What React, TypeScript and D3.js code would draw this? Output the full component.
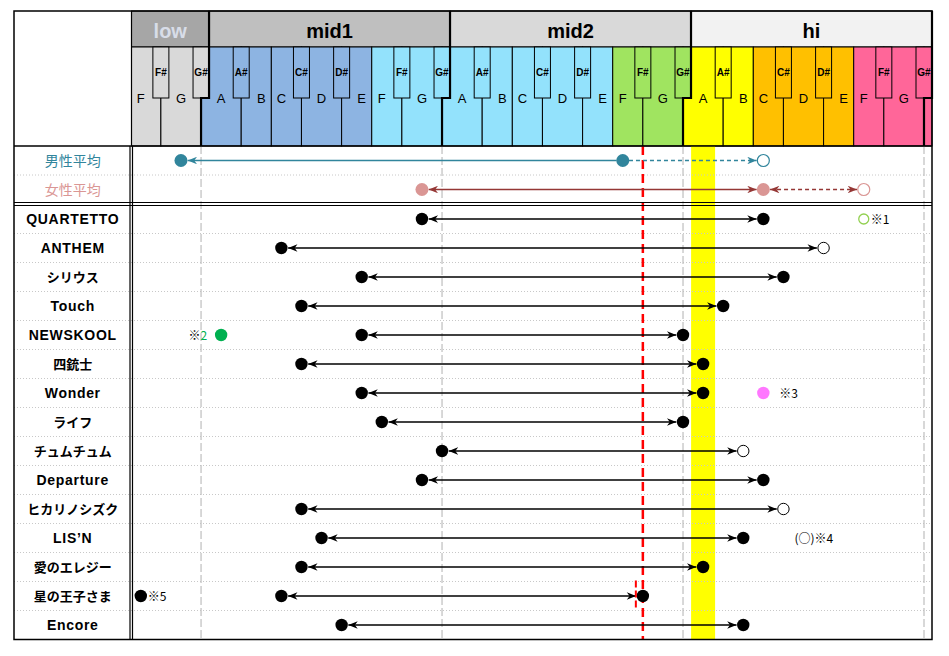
import React from "react";
import * as d3 from "d3";

// ---------- DATA ----------
const pitches = [
  "lowF", "lowF#", "lowG", "lowG#",
  "mid1A", "mid1A#", "mid1B", "mid1C", "mid1C#", "mid1D", "mid1D#", "mid1E", "mid1F", "mid1F#", "mid1G", "mid1G#",
  "mid2A", "mid2A#", "mid2B", "mid2C", "mid2C#", "mid2D", "mid2D#", "mid2E", "mid2F", "mid2F#", "mid2G", "mid2G#",
  "hiA", "hiA#", "hiB", "hiC", "hiC#", "hiD", "hiD#", "hiE", "hiF", "hiF#", "hiG", "hiG#",
  "hihiA",
];
const bandNames = ["low", "mid1", "mid2", "hi"];
const bandEnds = ["lowG#", "mid1G#", "mid2G#", "hiG#"];

const songs = [
  "QUARTETTO", "ANTHEM", "シリウス", "Touch", "NEWSKOOL", "四銃士", "Wonder", "ライフ",
  "チュムチュム", "Departure", "ヒカリノシズク", "LIS’N", "愛のエレジー", "星の王子さま", "Encore",
];
const songLow = [
  "mid1G", "mid1C", "mid1E", "mid1C#", "mid1E", "mid1C#", "mid1E", "mid1F",
  "mid1G#", "mid1G", "mid1C#", "mid1D", "mid1C#", "mid1C", "mid1D#",
];
const songHigh = [
  "hiC", "hiD#", "hiC#", "hiA#", "mid2G#", "hiA", "hiA", "mid2G#",
  "hiB", "hiC", "hiC#", "hiB", "hiA", "mid2F#", "hiB",
];
const songHighFalsetto = [
  false, true, false, false, false, false, false, false,
  true, false, true, false, false, false, false,
];

const avgLabels = ["男性平均", "女性平均"];
const maleAvg = ["lowG", "mid2F", "hiC"];
const femaleAvg = ["mid1G", "hiC", "hiF"];

const referenceNote = "mid2F#";
const highlightNote = "hiA";

// annotations
const noteMarks = [
  { song: "QUARTETTO", note: "hiF", kind: "openGreen", text: "※1" },
  { song: "NEWSKOOL", note: "mid1A", kind: "green", text: "※2" },
  { song: "Wonder", note: "hiC", kind: "pink", text: "※3" },
  { song: "LIS’N", note: "hiD", kind: "none", text: "(○)※4" },
  { song: "星の王子さま", note: "lowF", kind: "black", text: "※5" },
];

// ---------- LAYOUT ----------
const W = 949, H = 656;
const L = 14, R = 932, T = 11;
const labelR = 131.5;
const bandB = 47, blackB = 98, kbB = 146;
const avgTop = 146, avgRowH = 29;
const songTop = 204.5, rowH = 29;
const B = songTop + rowH * songs.length;

const idx = (p: string) => pitches.indexOf(p);
const x = d3.scaleLinear().domain([0, 39]).range([140.8, 924]);
const step = x(1) - x(0);

const isBlack = (p: string) => p.includes("#");
const letter = (p: string) => p.replace(/^(low|mid1|mid2|hihi|hi)/, "");

const keyColor = (i: number) => {
  if (i <= 3) return "#d9d9d9";
  if (i <= 11) return "#8db4e2";
  if (i <= 23) return "#93e2fc";
  if (i <= 27) return "#a0e460";
  if (i <= 30) return "#ffff00";
  if (i <= 35) return "#ffc000";
  return "#ff6699";
};
const bandColors = ["#a6a6a6", "#bfbfbf", "#d9d9d9", "#f2f2f2"];
const bandText = ["#d8dde8", "#000", "#000", "#000"];

const maleC = "#31859c", femaleDot = "#da9694", femaleLine = "#953735";
const sans = "'Liberation Sans', Arial, sans-serif";
const jp = "'Noto Sans CJK JP', 'Noto Sans', sans-serif";
const labelFont = "'Liberation Sans', 'Noto Sans CJK JP', sans-serif";

const rowY = (i: number) => songTop + rowH * i + rowH / 2;
const isLatin = (s: string) => /^[\x00-\x7F’]+$/.test(s);

export default function App() {
  const whiteKeys = pitches
    .map((p, i) => ({ p, i }))
    .filter((d) => !isBlack(d.p))
    .map(({ p, i }) => {
      const left = i > 0 && isBlack(pitches[i - 1]) ? x(i - 1) : x(i) - step / 2;
      const right = i < pitches.length - 1 && isBlack(pitches[i + 1]) ? x(i + 1) : x(i) + step / 2;
      return { p, i, x0: Math.max(labelR, left), x1: Math.min(R, right) };
    });
  const blackKeys = pitches.map((p, i) => ({ p, i })).filter((d) => isBlack(d.p));

  const bandEdges = [labelR, ...bandEnds.map((p) => Math.min(R, x(idx(p)) + 8))];
  const r = 6.2;

  const arrowLine = (
    x0: number, x1: number, y: number, color: string,
    start: boolean, end: boolean, dashed: boolean, key: string
  ) => (
    <line
      key={key}
      x1={x0} x2={x1} y1={y} y2={y}
      stroke={color}
      strokeWidth={1.5}
      strokeDasharray={dashed ? "4,3" : undefined}
      markerStart={start ? `url(#arr-${color.slice(1)})` : undefined}
      markerEnd={end ? `url(#arr-${color.slice(1)})` : undefined}
    />
  );

  const markerColors = ["#000000", maleC, femaleLine];

  const maleY = avgTop + avgRowH / 2;
  const femY = avgTop + avgRowH * 1.5;
  const mx = maleAvg.map((p) => x(idx(p)));
  const fx = femaleAvg.map((p) => x(idx(p)));

  return (
    <svg width={W} height={H} style={{ position: "absolute", left: 0, top: 0, background: "#fff" }}>
      <defs>
        {markerColors.map((c) => (
          <marker
            key={c}
            id={`arr-${c.slice(1)}`}
            viewBox="0 0 10 8"
            refX={10}
            refY={4}
            markerWidth={10}
            markerHeight={7.5}
            markerUnits="userSpaceOnUse"
            orient="auto-start-reverse"
          >
            <path d="M0,0 L10,4 L0,8 L3,4 Z" fill={c} />
          </marker>
        ))}
      </defs>

      {/* header bands */}
      {bandNames.map((b, i) => (
        <g key={b}>
          <rect x={bandEdges[i]} y={T} width={bandEdges[i + 1] - bandEdges[i]} height={bandB - T}
            fill={bandColors[i]} stroke="#000" strokeWidth={1} />
          <text x={(bandEdges[i] + bandEdges[i + 1]) / 2} y={38} textAnchor="middle"
            fontFamily={sans} fontWeight="bold" fontSize={20} fill={bandText[i]}>{b}</text>
        </g>
      ))}

      {/* white keys */}
      {whiteKeys.map((k) => (
        <g key={k.p}>
          <rect x={k.x0} y={bandB} width={k.x1 - k.x0} height={kbB - bandB}
            fill={keyColor(k.i)} stroke="#000" strokeWidth={1} />
          {k.i < 40 && (
            <text x={x(k.i)} y={103} textAnchor="middle" fontFamily={sans} fontSize={13} fill="#000">
              {letter(k.p)}
            </text>
          )}
        </g>
      ))}
      {/* black keys */}
      {blackKeys.map((k) => (
        <g key={k.p}>
          <rect x={x(k.i) - 8} y={bandB} width={Math.min(16, R - (x(k.i) - 8))} height={blackB - bandB}
            fill={keyColor(k.i)} stroke="#000" strokeWidth={1} />
          <text x={x(k.i)} y={76} textAnchor="middle" fontFamily={sans} fontSize={10} fontWeight="bold" fill="#000">
            {letter(k.p)}
          </text>
        </g>
      ))}
      {/* octave boundaries (thick) */}
      {bandEnds.map((p) => {
        const cx = x(idx(p));
        return (
          <path key={p} d={`M${Math.min(R, cx + 8)},${T} V${blackB} H${cx} V${kbB}`}
            fill="none" stroke="#000" strokeWidth={2.2} />
        );
      })}

      {/* highlight band */}
      <rect x={x(idx(highlightNote)) - 12} y={kbB} width={24} height={B - kbB} fill="#ffff00" />

      {/* dotted row separators */}
      <line x1={L} x2={R} y1={avgTop + avgRowH} y2={avgTop + avgRowH} stroke="#c8c8c8" strokeDasharray="1,2" />
      {songs.slice(1).map((s, i) => (
        <line key={s} x1={L} x2={R} y1={songTop + rowH * (i + 1)} y2={songTop + rowH * (i + 1)}
          stroke="#c8c8c8" strokeDasharray="1,2" />
      ))}

      {/* octave grid lines */}
      {bandEnds.map((p) => (
        <line key={p} x1={x(idx(p))} x2={x(idx(p))} y1={kbB} y2={B}
          stroke="#bfbfbf" strokeWidth={1.2} strokeDasharray="8,3" />
      ))}

      {/* reference note line */}
      <line x1={x(idx(referenceNote))} x2={x(idx(referenceNote))} y1={kbB} y2={B}
        stroke="#ff0000" strokeWidth={2.5} strokeDasharray="9,5" />

      {/* averages */}
      <text x={(L + labelR) / 2} y={maleY + 5} textAnchor="middle" fontFamily={jp} fontSize={14} fill={maleC}>
        {avgLabels[0]}
      </text>
      <text x={(L + labelR) / 2} y={femY + 5} textAnchor="middle" fontFamily={jp} fontSize={14} fill={femaleDot}>
        {avgLabels[1]}
      </text>
      {arrowLine(mx[0] + r + 0.5, mx[1] - r, maleY, maleC, true, false, false, "m1")}
      {arrowLine(mx[1] + r, mx[2] - r - 0.5, maleY, maleC, false, true, true, "m2")}
      <circle cx={mx[0]} cy={maleY} r={6.5} fill={maleC} />
      <circle cx={mx[1]} cy={maleY} r={6.5} fill={maleC} />
      <circle cx={mx[2]} cy={maleY} r={6} fill="#fff" stroke={maleC} strokeWidth={1.2} />

      {arrowLine(fx[0] + r + 0.5, fx[1] - r - 0.5, femY, femaleLine, true, true, false, "f1")}
      {arrowLine(fx[1] + r + 0.5, fx[2] - r - 0.5, femY, femaleLine, true, true, true, "f2")}
      <circle cx={fx[0]} cy={femY} r={6.5} fill={femaleDot} />
      <circle cx={fx[1]} cy={femY} r={6.5} fill={femaleDot} />
      <circle cx={fx[2]} cy={femY} r={6} fill="#fff" stroke={femaleDot} strokeWidth={1.2} />

      {/* songs */}
      {songs.map((s, i) => {
        const y = rowY(i);
        const x0 = x(idx(songLow[i]));
        const x1 = x(idx(songHigh[i]));
        const latin = isLatin(s);
        return (
          <g key={s}>
            <text x={(L + labelR) / 2} y={y + 5} textAnchor="middle" fontFamily={labelFont} fontWeight="bold"
              fontSize={latin ? 14 : 13} letterSpacing={latin ? 0.7 : 0} fill="#000">{s}</text>
            {arrowLine(x0 + r + 0.5, x1 - r - 0.5, y, "#000000", true, true, false, "a" + i)}
            <circle cx={x0} cy={y} r={r} fill="#000" />
            {songHighFalsetto[i]
              ? <circle cx={x1} cy={y} r={r - 0.5} fill="#fff" stroke="#000" strokeWidth={1} />
              : <circle cx={x1} cy={y} r={r} fill="#000" />}
          </g>
        );
      })}

      {/* annotations */}
      {noteMarks.map((m) => {
        const y = rowY(songs.indexOf(m.song));
        const cx = x(idx(m.note));
        if (m.kind === "openGreen") {
          return (
            <g key={m.text}>
              <circle cx={cx} cy={y} r={5} fill="#fff" stroke="#92d050" strokeWidth={1.3} />
              <text x={cx + 7} y={y + 5} fontFamily={jp} fontSize={12} fill="#000">{m.text}</text>
            </g>
          );
        }
        if (m.kind === "green") {
          return (
            <g key={m.text}>
              <circle cx={cx} cy={y} r={6.2} fill="#00b050" />
              <text x={cx - 14} y={y + 5} textAnchor="end" fontFamily={jp} fontSize={12} fill="#000">
                {m.text.slice(0, 1)}<tspan fill="#00b050">{m.text.slice(1)}</tspan>
              </text>
            </g>
          );
        }
        if (m.kind === "pink") {
          return (
            <g key={m.text}>
              <circle cx={cx} cy={y} r={6.2} fill="#ff77ff" />
              <text x={cx + 16} y={y + 5} fontFamily={jp} fontSize={12} fill="#000">{m.text}</text>
            </g>
          );
        }
        if (m.kind === "black") {
          return (
            <g key={m.text}>
              <circle cx={cx} cy={y} r={r} fill="#000" />
              <text x={cx + 7} y={y + 5} fontFamily={jp} fontSize={12} fill="#000">{m.text}</text>
            </g>
          );
        }
        return (
          <text key={m.text} x={cx - 9} y={y + 5} fontFamily={jp} fontSize={12} fill="#000">{m.text}</text>
        );
      })}
      {/* short marker under 星の王子さま */}
      {(() => {
        const i = songs.indexOf("星の王子さま");
        const xx = x(idx(songHigh[i])) - 7;
        return <line x1={xx} x2={xx} y1={songTop + rowH * i - 1} y2={songTop + rowH * (i + 1) - 3}
          stroke="#ff0000" strokeWidth={2} strokeDasharray="7,3" />;
      })()}

      {/* frame */}
      <line x1={L} x2={R} y1={kbB} y2={kbB} stroke="#000" strokeWidth={1.5} />
      <line x1={L} x2={R} y1={songTop - 2} y2={songTop - 2} stroke="#000" strokeWidth={1.2} />
      <line x1={L} x2={R} y1={songTop + 1} y2={songTop + 1} stroke="#000" strokeWidth={1.2} />
      <line x1={labelR} x2={labelR} y1={T} y2={kbB} stroke="#000" strokeWidth={1.2} />
      <line x1={labelR - 1.5} x2={labelR - 1.5} y1={kbB} y2={B} stroke="#000" strokeWidth={1.2} />
      <line x1={labelR + 1} x2={labelR + 1} y1={kbB} y2={B} stroke="#000" strokeWidth={1.2} />
      <rect x={L} y={T} width={R - L} height={B - T} fill="none" stroke="#000" strokeWidth={1.5} />
    </svg>
  );
}
